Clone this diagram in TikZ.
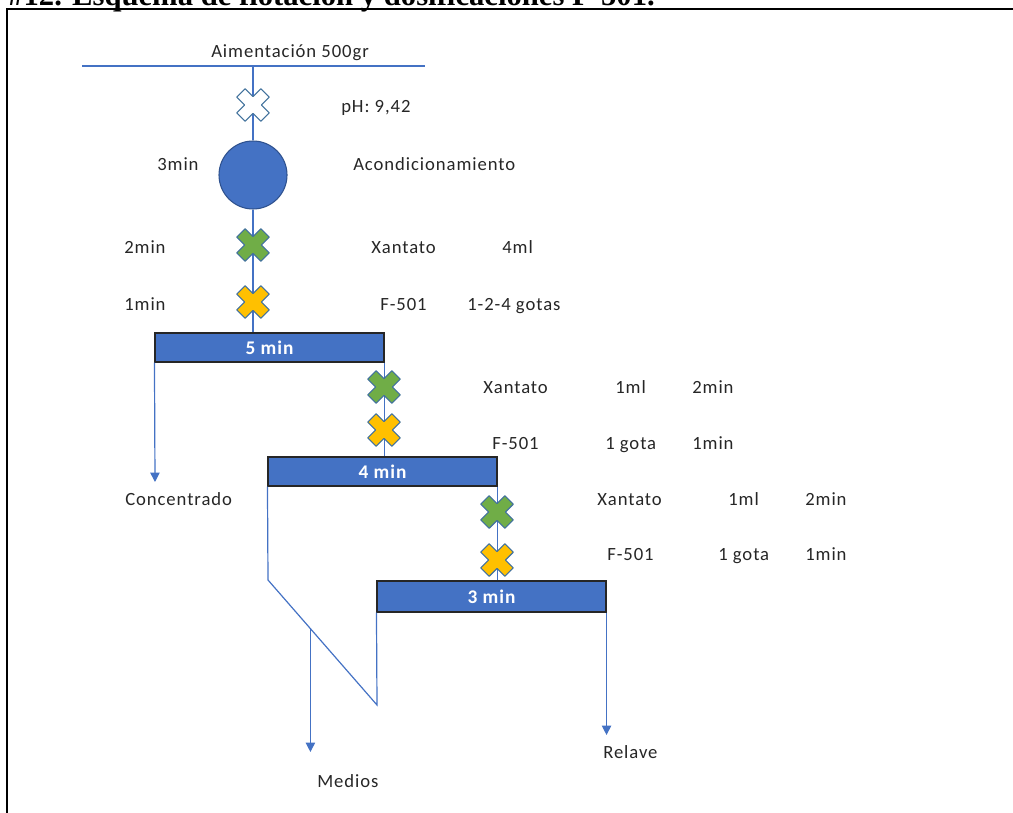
\documentclass[tikz,border=0pt]{standalone}
\usepackage{fontspec}
\setmainfont{Carlito}[LetterSpace=5]
\newfontfamily\titlefont{Liberation Serif}
\usetikzlibrary{arrows.meta,calc}

\definecolor{flow}{HTML}{4472C4}
\definecolor{ringline}{HTML}{2F528F}
\definecolor{xgreen}{HTML}{70AD47}
\definecolor{xyellow}{HTML}{FFC000}
\definecolor{xline}{HTML}{41719C}

% reagent dosing mark: a thick "x" centred on a named coordinate
\newcommand\reagent[3]{%
  \coordinate (#1) at #2;
  \filldraw[fill=#3, draw=xline, line width=0.8pt, line join=round,
    shift={(#1)}, rotate=45]
    (6,6) -- (17,6) -- (17,-6) -- (6,-6) -- (6,-17) -- (-6,-17)
    -- (-6,-6) -- (-17,-6) -- (-17,6) -- (-6,6) -- (-6,17)
    -- (6,17) -- cycle;
}

\tikzset{
  flowline/.style={draw=flow, line width=0.9pt},
  tipline/.style={flowline, -{Triangle[length=7pt,width=7pt]}},
  lbl/.style={anchor=base west, inner sep=0pt, text=black!85,
    font=\fontsize{14}{16}\selectfont},
  stage/.style={draw=black!85, fill=flow, line width=0.8pt, inner sep=0pt,
    text=white, font=\fontsize{14.5}{16}\selectfont\bfseries,
    minimum width={229*0.75pt}, minimum height={29*0.75pt}},
  tank/.style={circle, draw=ringline, fill=flow, line width=0.8pt,
    minimum size={68*0.75pt}, inner sep=0pt}
}

\begin{document}
\begin{tikzpicture}[x=0.75pt, y=-0.75pt]
\useasboundingbox (0,0) rectangle (1013,813);

% caption above the frame, cut by the page edge
\begin{scope}
  \clip (0,0) rectangle (1013,813);
  \node[anchor=base west, inner sep=0pt, font=\titlefont\bfseries\fontsize{23}{26}\selectfont]
    (caption) at (8,6) {\#12. Esquema de flotación y dosificaciones F-501.};
\end{scope}

% frame
\coordinate (frbl) at (7,813);
\coordinate (frtl) at (7,9);
\coordinate (frtr) at (1013,9);
\draw[black, line width=1.5pt] (frbl) -- (frtl) -- (frtr);

% feed
\coordinate (fl) at (82,66);
\coordinate (fr) at (425,66);
\coordinate (fj) at (253,66);
\node[lbl] (feed) at (211,58) {Aimentación 500gr};

% stages
\node[tank] (cond) at (253,175) {};
\node[stage] (b1) at (269.5,347.5) {5 min};
\node[stage] (b2) at (382.5,471.5) {4 min};
\node[stage, minimum height={31*0.75pt}] (b3) at (491.5,596.5) {3 min};

% routing points
\coordinate (d1) at (268,580);
\coordinate (d2) at (377,705);
\coordinate (mj) at ($(d1)!0.389!(d2)$);
\coordinate (ct) at (155,482);
\coordinate (mt) at (310,752);
\coordinate (rt) at (606,735);

% connectors
\draw[flowline] (fl) -- (fr);
\draw[flowline] (fj) -- (cond);
\draw[flowline] (cond) -- (b1.north -| cond);
\draw[flowline] (b1.south east) -- (b2.north -| b1.south east);
\draw[flowline] (b2.south east) -- (b3.north -| b2.south east);
\draw[flowline] (b2.south west) -- (d1) -- (d2) -- (b3.south west);
\draw[tipline] (b1.south west) -- (ct);
\draw[tipline] (mj) -- (mj |- mt);
\draw[tipline] (b3.south east) -- (b3.south east |- rt);

% reagent additions
\reagent{mw}{(253,105)}{white}
\reagent{mg1}{(253,245)}{xgreen}
\reagent{my1}{(253,302)}{xyellow}
\reagent{mg2}{(384,387)}{xgreen}
\reagent{my2}{(384,430)}{xyellow}
\reagent{mg3}{(497,512)}{xgreen}
\reagent{my3}{(497,560)}{xyellow}

% labels
\node[lbl] (ph) at (341,113) {pH: 9,42};
\node[lbl] (t0) at (157,171) {3min};
\node[lbl] (acond) at (353,171) {Acondicionamiento};

\node[lbl] (t1a) at (124,253) {2min};
\node[lbl] (r1a) at (371,253) {Xantato};
\node[lbl] (q1a) at (502,253) {4ml};
\node[lbl] (t1b) at (124,310) {1min};
\node[lbl] (r1b) at (380,310) {F-501};
\node[lbl] (q1b) at (467,310) {1-2-4 gotas};

\node[lbl] (r2a) at (483,393) {Xantato};
\node[lbl] (q2a) at (615,393) {1ml};
\node[lbl] (t2a) at (692,393) {2min};
\node[lbl] (r2b) at (492,449) {F-501};
\node[lbl] (q2b) at (605,449) {1 gota};
\node[lbl] (t2b) at (692,449) {1min};

\node[lbl] (r3a) at (597,505) {Xantato};
\node[lbl] (q3a) at (728,505) {1ml};
\node[lbl] (t3a) at (805,505) {2min};
\node[lbl] (r3b) at (607,560) {F-501};
\node[lbl] (q3b) at (718,560) {1 gota};
\node[lbl] (t3b) at (805,560) {1min};

\node[lbl] (conc) at (125,505) {Concentrado};
\node[lbl] (med) at (317,787) {Medios};
\node[lbl] (rel) at (603,758) {Relave};
\end{tikzpicture}
\end{document}
